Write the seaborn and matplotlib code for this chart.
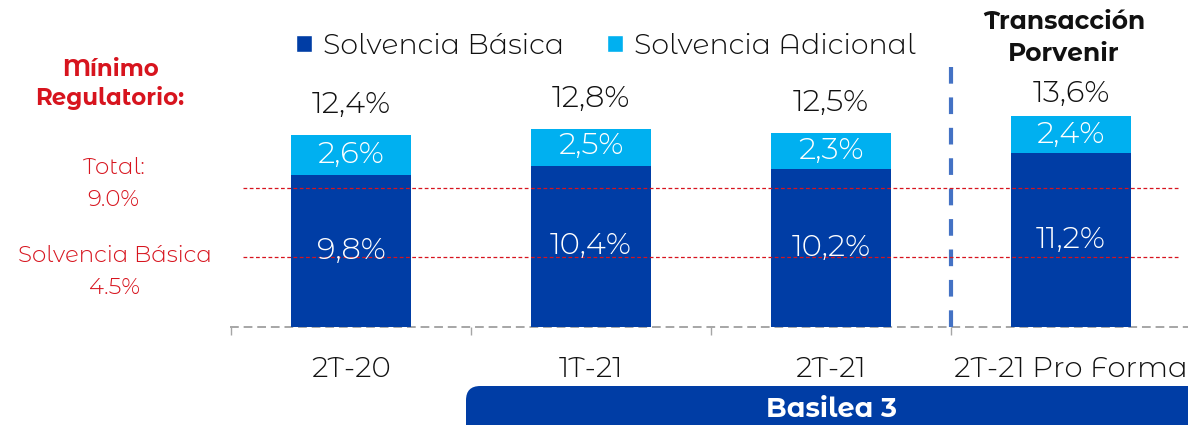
import matplotlib
matplotlib.use("Agg")
import matplotlib.pyplot as plt
from matplotlib.patches import FancyBboxPatch, Patch
import seaborn as sns
import pandas as pd

# --- data ---------------------------------------------------------------
periods = ["2T-20", "1T-21", "2T-21", "2T-21 Pro Forma"]
solvencia_basica = [9.8, 10.4, 10.2, 11.2]
solvencia_adicional = [2.6, 2.5, 2.3, 2.4]
solvencia_total = [12.4, 12.8, 12.5, 13.6]
minimo_total = 9.0
minimo_basica = 4.5

basica_labels = ["9,8%", "10,4%", "10,2%", "11,2%"]
adicional_labels = ["2,6%", "2,5%", "2,3%", "2,4%"]
total_labels = ["12,4%", "12,8%", "12,5%", "13,6%"]

# --- style --------------------------------------------------------------
DARK_BLUE = "#003DA5"
LIGHT_BLUE = "#00B0F0"
RED = "#D7141E"
GREY = "#A6A6A6"
DIVIDER = "#4472C4"
INK = "#111111"
FONT = ["Montserrat Alternates", "DejaVu Sans"]
LIGHT = 300
BOLD = 700

sns.set_theme(style="white")
plt.rcParams["font.family"] = FONT
plt.rcParams["font.weight"] = LIGHT

W, H = 1188, 425
fig = plt.figure(figsize=(W / 100, H / 100), dpi=100)


def fx(px):
    return px / W


def fy(py):
    return 1 - py / H


ax_left, ax_bottom_px = 231, 327
ax = fig.add_axes([fx(ax_left), fy(ax_bottom_px), 1 - fx(ax_left), ax_bottom_px / H])
ax.patch.set_alpha(0)

df = pd.DataFrame({
    "periodo": periods,
    "basica": solvencia_basica,
    "total": solvencia_total,
})

# Stacked bars: the full total in light blue, the basic part painted over it
sns.barplot(data=df, x="periodo", y="total", color=LIGHT_BLUE, width=0.5,
            saturation=1, edgecolor="none", ax=ax, zorder=2)
sns.barplot(data=df, x="periodo", y="basica", color=DARK_BLUE, width=0.5,
            saturation=1, edgecolor="none", ax=ax, zorder=3)

px_per_unit = 15.5
ax.set_ylim(0, ax_bottom_px / px_per_unit)
ax.set_xlim(-0.5, -0.5 + (W - ax_left) / 240)

# Regulatory minimum lines
span = W - ax_left
for lvl in (minimo_total, minimo_basica):
    ax.axhline(lvl, xmin=(243 - ax_left) / span, xmax=(1180 - ax_left) / span,
               color=RED, lw=0.9, ls=(0, (3, 2)), zorder=5)

# Value labels
label_pad = [30, 30, 30, 22]
for i in range(len(periods)):
    b = solvencia_basica[i]
    a = solvencia_adicional[i]
    ax.text(i, b / 2, basica_labels[i], ha="center", va="center",
            color="white", fontsize=22, zorder=6)
    ax.text(i, b + a / 2, adicional_labels[i], ha="center", va="center",
            color="white", fontsize=22, zorder=6)
    ax.annotate(total_labels[i], (i, solvencia_total[i]), xytext=(0, label_pad[i] * 0.72),
                textcoords="offset points", ha="center", va="center",
                color=INK, fontsize=22)

# Divider before the pro forma column
ax.plot([2.5, 2.5], [0, (ax_bottom_px - 65) / px_per_unit], color=DIVIDER, lw=3,
        ls=(0, (4, 3.3)), zorder=4, solid_capstyle="butt")

# Axis styling
for s in ("left", "right", "top"):
    ax.spines[s].set_visible(False)
ax.spines["bottom"].set_color(GREY)
ax.spines["bottom"].set_linewidth(1.4)
ax.spines["bottom"].set_linestyle((0, (3.5, 3.5)))
ax.set_yticks([])
ax.set_xlabel("")
ax.set_ylabel("")
ax.tick_params(axis="x", which="major", length=0, pad=21, labelsize=21, labelcolor=INK)
ax.set_xticks([-0.5, 0.5, 1.5, 2.5], minor=True)
ax.tick_params(axis="x", which="minor", bottom=True, length=6, width=1.0, color=GREY)

# Legend
handles = [Patch(facecolor=DARK_BLUE, label="Solvencia Básica"),
           Patch(facecolor=LIGHT_BLUE, label="Solvencia Adicional")]
fig.legend(handles=handles, loc="center", bbox_to_anchor=(fx(606), fy(46)), ncol=2,
           frameon=False, fontsize=20.5, handlelength=0.55, handleheight=0.55,
           handletextpad=0.4, columnspacing=1.5, labelcolor=INK)

# Left annotations
fig.text(fx(110), fy(70), "Mínimo", ha="center", va="center", color=RED,
         fontsize=16.5, fontweight=BOLD)
fig.text(fx(110), fy(98), "Regulatorio:", ha="center", va="center", color=RED,
         fontsize=16.5, fontweight=BOLD)
for txt, x, y in (("Total:", 113, 167), ("9.0%", 113, 200),
                  ("Solvencia Básica", 115, 255), ("4.5%", 115, 288)):
    fig.text(fx(x), fy(y), txt, ha="center", va="center", color=RED, fontsize=16.5)

# Header over the pro forma column
fig.text(fx(1064), fy(22), "Transacción", ha="center", va="center", color=INK,
         fontsize=18, fontweight=BOLD)
fig.text(fx(1064), fy(54), "Porvenir", ha="center", va="center", color=INK,
         fontsize=18, fontweight=BOLD)

# Basilea 3 banner
banner = FancyBboxPatch((fx(466), fy(440)), fx(1220 - 466), fy(386) - fy(440),
                        boxstyle="round,pad=0,rounding_size=0.012",
                        transform=fig.transFigure, facecolor=DARK_BLUE,
                        edgecolor="none", mutation_aspect=W / H)
fig.patches.append(banner)
fig.text(fx(832), fy(409), "Basilea 3", ha="center", va="center", color="white",
         fontsize=19.5, fontweight=BOLD)

fig.savefig("out.png", dpi=100)
